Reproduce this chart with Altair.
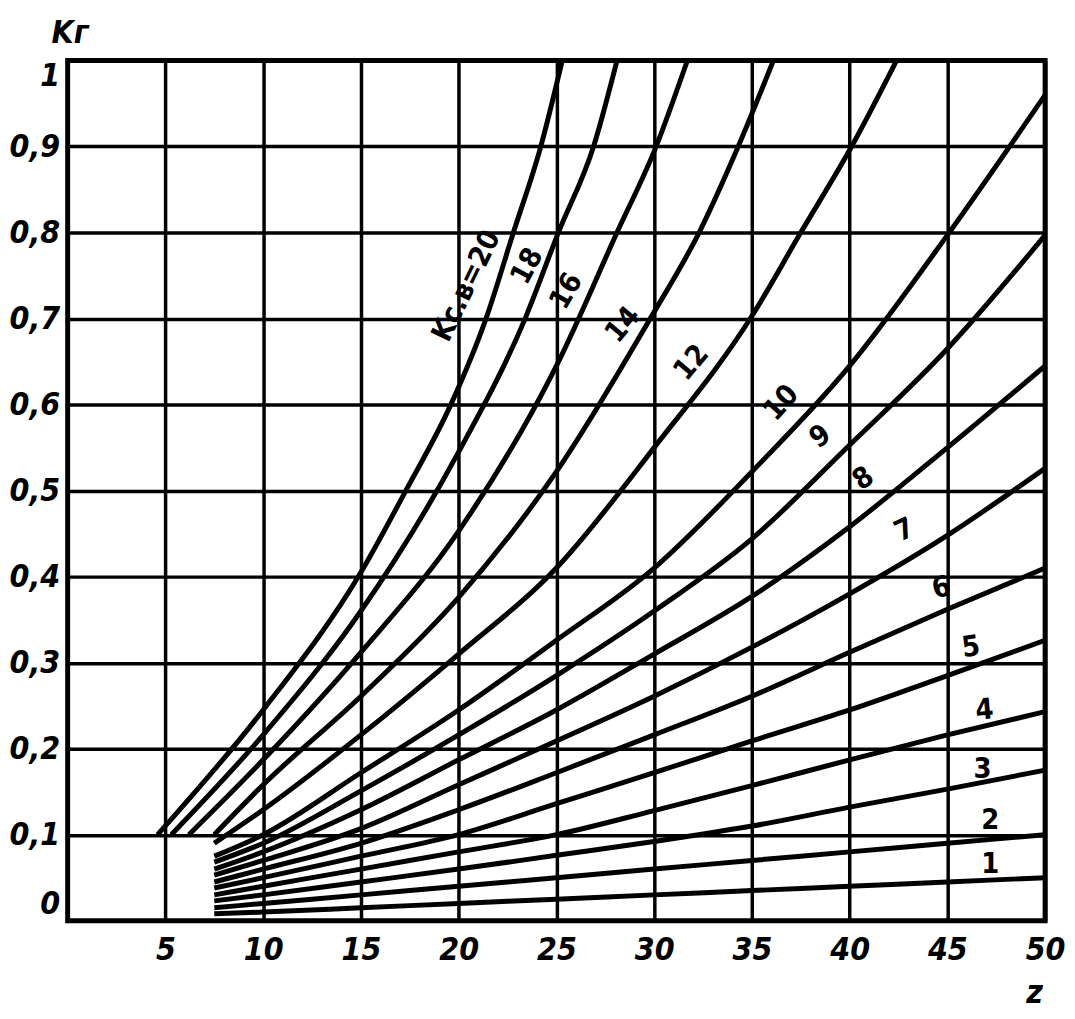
import altair as alt
import pandas as pd

# ---- data ----
Z_LOW = [7.5, 10, 15, 20, 25, 30, 35, 40, 45, 50]
K_1 = [0.008, 0.010, 0.015, 0.020, 0.025, 0.030, 0.035, 0.040, 0.045, 0.050]
K_2 = [0.015, 0.020, 0.030, 0.040, 0.050, 0.060, 0.070, 0.080, 0.090, 0.100]
K_3 = [0.023, 0.030, 0.045, 0.060, 0.076, 0.092, 0.110, 0.132, 0.153, 0.175]
K_4 = [0.030, 0.040, 0.060, 0.080, 0.100, 0.128, 0.157, 0.187, 0.216, 0.243]
K_5 = [0.038, 0.050, 0.075, 0.100, 0.136, 0.172, 0.209, 0.245, 0.285, 0.326]
K_6 = [0.045, 0.060, 0.090, 0.129, 0.172, 0.216, 0.261, 0.312, 0.362, 0.410]
K_7 = [0.053, 0.070, 0.107, 0.158, 0.209, 0.261, 0.318, 0.380, 0.448, 0.526]
K_8 = [0.060, 0.080, 0.129, 0.187, 0.245, 0.310, 0.377, 0.458, 0.550, 0.645]
K_9 = [0.068, 0.090, 0.151, 0.216, 0.285, 0.360, 0.444, 0.553, 0.665, 0.797]
K_10 = [0.075, 0.100, 0.172, 0.245, 0.326, 0.410, 0.522, 0.645, 0.797, 0.960]

Z_12 = [7.5, 10, 15, 20, 25, 30, 35, 37.5, 40.1, 42.4]
K_12 = [0.090, 0.129, 0.216, 0.310, 0.410, 0.550, 0.703, 0.800, 0.900, 1.0]
Z_14 = [7.5, 10, 15, 20, 25, 29.8, 32.3, 34.3, 36.1]
K_14 = [0.100, 0.158, 0.261, 0.376, 0.522, 0.700, 0.800, 0.900, 1.0]
Z_16 = [6.2, 10, 15, 20, 25, 28.1, 30.1, 31.7]
K_16 = [0.100, 0.187, 0.312, 0.453, 0.645, 0.800, 0.900, 1.0]
Z_18 = [5.3, 10, 15, 20, 23.4, 25.1, 26.9, 28.1]
K_18 = [0.100, 0.216, 0.360, 0.545, 0.700, 0.800, 0.900, 1.0]
Z_20 = [4.6, 10, 15, 17.3, 19.6, 21.4, 22.8, 24.2, 25.3]
K_20 = [0.100, 0.245, 0.405, 0.500, 0.600, 0.700, 0.800, 0.900, 1.0]

LABEL_TEXT = ["Kс.в=20", "18", "16", "14", "12", "10", "9", "8", "7", "6", "5", "4", "3", "2", "1"]
LABEL_Z = [20.4, 23.5, 25.5, 28.4, 31.9, 36.5, 38.5, 40.7, 42.8, 44.7, 46.2, 46.9, 46.8, 47.2, 47.2]
LABEL_K = [0.738, 0.761, 0.732, 0.693, 0.649, 0.602, 0.563, 0.514, 0.454, 0.387, 0.318, 0.245, 0.176, 0.117, 0.066]
LABEL_ANGLE = [296, 298, 300, 310, 310, 312, 325, 325, 335, 345, 352, 355, 0, 0, 0]

X_TICKS = [5, 10, 15, 20, 25, 30, 35, 40, 45, 50]
Y_TICKS = [0, 0.1, 0.2, 0.3, 0.4, 0.5, 0.6, 0.7, 0.8, 0.9, 1.0]

curves = [
    (1, Z_LOW, K_1), (2, Z_LOW, K_2), (3, Z_LOW, K_3), (4, Z_LOW, K_4),
    (5, Z_LOW, K_5), (6, Z_LOW, K_6), (7, Z_LOW, K_7), (8, Z_LOW, K_8),
    (9, Z_LOW, K_9), (10, Z_LOW, K_10), (12, Z_12, K_12), (14, Z_14, K_14),
    (16, Z_16, K_16), (18, Z_18, K_18), (20, Z_20, K_20),
]
rows = []
for ksv, zs, ks in curves:
    for z, k in zip(zs, ks):
        rows.append({"ksv": ksv, "z": z, "k": k})
df = pd.DataFrame(rows)

lab = pd.DataFrame({"t": LABEL_TEXT, "z": LABEL_Z, "k": LABEL_K, "a": LABEL_ANGLE})

FONT = "'Liberation Sans Narrow', 'DejaVu Sans Condensed', 'Liberation Sans', 'DejaVu Sans', sans-serif"

x_scale = alt.Scale(domain=[0, 50], nice=False, zero=False)
y_scale = alt.Scale(domain=[0, 1], nice=False, zero=False)

lines = alt.Chart(df).mark_line(
    color="black", strokeWidth=5, interpolate="monotone", clip=True
).encode(
    x=alt.X("z:Q", scale=x_scale,
            axis=alt.Axis(values=X_TICKS, title="z", titleAngle=0,
                          titleX=972, titleY=72, titleAlign="center",
                          titleBaseline="middle", labelPadding=14,
                          labelFlush=False)),
    y=alt.Y("k:Q", scale=y_scale,
            axis=alt.Axis(values=Y_TICKS, title="Kг", titleAngle=0,
                          titleX=2, titleY=-28, titleAlign="center",
                          titleBaseline="middle", labelPadding=8,
                          labelFlush=True,
                          labelExpr="datum.value == 0 ? '0' : (datum.value == 1 ? '1' : replace(format(datum.value, '.1f'), '.', ','))")),
    detail="ksv:N",
)

labels = alt.Chart(lab).mark_text(
    font=FONT, fontSize=29, fontWeight="bold", color="black",
    align="center", baseline="middle"
).encode(
    x=alt.X("z:Q", scale=x_scale),
    y=alt.Y("k:Q", scale=y_scale),
    text="t:N",
    angle=alt.Angle("a:Q", scale=None),
)

chart = alt.layer(lines, labels).properties(
    width=983, height=865,
    padding={"left": 60, "top": 50, "right": 22, "bottom": 92},
    autosize=alt.AutoSizeParams(type="none"),
    background="white",
).configure_view(
    stroke="black", strokeWidth=5
).configure_axis(
    grid=True, gridColor="black", gridWidth=3.5, gridOpacity=1,
    domain=False, ticks=False,
    labelColor="black", labelFont=FONT, labelFontSize=32,
    labelFontStyle="italic", labelFontWeight="bold",
    titleColor="black", titleFont=FONT, titleFontSize=32,
    titleFontStyle="italic", titleFontWeight="bold",
)

chart.save("out.html", embed_options={"renderer": "svg", "actions": False})
